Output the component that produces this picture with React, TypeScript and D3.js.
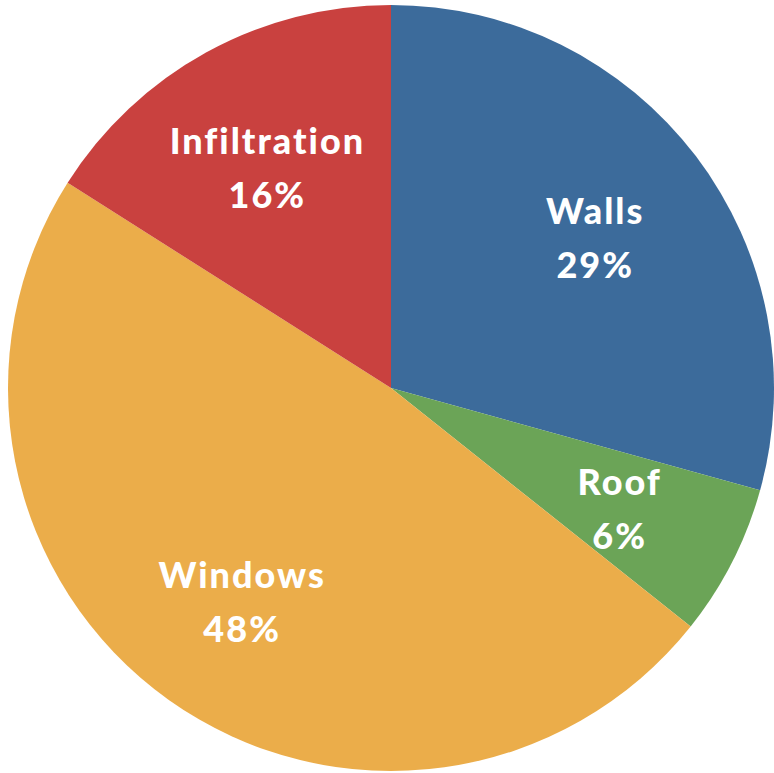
import React, { useEffect, useRef } from "react";
import * as d3 from "d3";

const categories = ["Walls", "Roof", "Windows", "Infiltration"];
const shares = [29.3, 6.4, 48.3, 16.0];
const colors = ["#3C6B9B", "#6BA457", "#EBAD4A", "#C9413F"];

const width = 774;
const height = 773;

const App = () => {
  const ref = useRef<SVGSVGElement>(null);

  useEffect(() => {
    const svg = d3.select(ref.current);
    svg.selectAll("*").remove();

    const cx = 391;
    const cy = 388;
    const radius = 383;

    const data = categories.map((name, i) => ({ name, value: shares[i], color: colors[i] }));
    const total = d3.sum(shares);

    const pie = d3
      .pie<any>()
      .sort(null)
      .value(d => d.value);

    const arc = d3.arc<any>().innerRadius(0).outerRadius(radius);
    const labelArc = d3.arc<any>().innerRadius(radius * 0.67).outerRadius(radius * 0.67);

    const g = svg.append("g").attr("transform", `translate(${cx},${cy})`);

    const slices = pie(data);

    g.selectAll("path")
      .data(slices)
      .enter()
      .append("path")
      .attr("d", arc)
      .attr("fill", d => d.data.color);

    const labels = g
      .selectAll("text")
      .data(slices)
      .enter()
      .append("text")
      .attr("transform", d => {
        const [x, y] = labelArc.centroid(d);
        return `translate(${x},${y})`;
      })
      .attr("text-anchor", "middle")
      .attr("fill", "#ffffff")
      .attr("font-family", "Lato, 'Open Sans', sans-serif")
      .attr("font-weight", 900)
      .attr("font-size", "36px")
      .attr("letter-spacing", "2px");

    labels
      .append("tspan")
      .attr("x", 0)
      .attr("dy", "-0.25em")
      .text(d => d.data.name);

    labels
      .append("tspan")
      .attr("x", 0)
      .attr("dy", "1.5em")
      .text(d => `${Math.round((d.data.value / total) * 100)}%`);
  }, []);

  return (
    <div style={{ position: "fixed", left: 0, top: 0, background: "#fff" }}>
      <svg ref={ref} width={width} height={height} style={{ display: "block" }}></svg>
    </div>
  );
};

export default App;
